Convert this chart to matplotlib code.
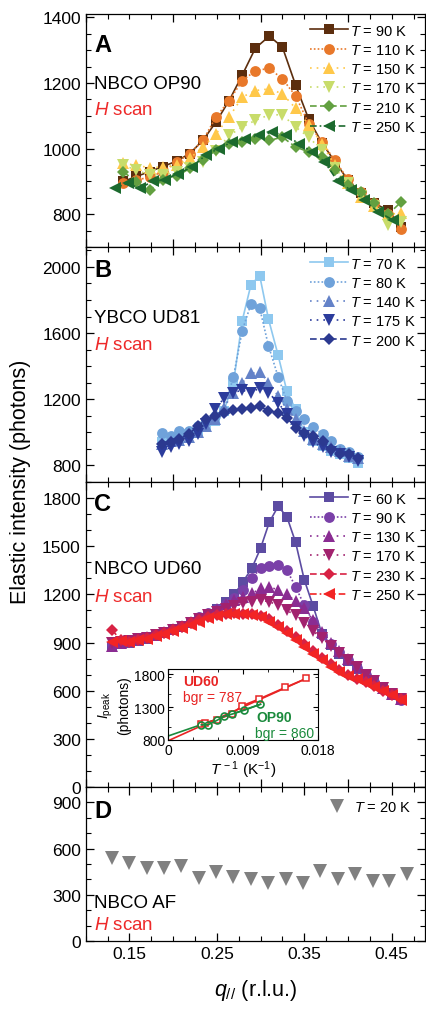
import matplotlib
matplotlib.use('Agg')
import matplotlib.pyplot as plt
from matplotlib.ticker import MultipleLocator

plt.rcParams['font.family'] = ['Liberation Sans', 'DejaVu Sans']
plt.rcParams['mathtext.fontset'] = 'custom'
plt.rcParams['mathtext.rm'] = 'Liberation Sans'
plt.rcParams['mathtext.it'] = 'Liberation Sans:italic'
plt.rcParams['mathtext.bf'] = 'Liberation Sans:bold'

# ---------------- data: panel A, NBCO OP90 ----------------
qA = [0.143, 0.158, 0.173, 0.188, 0.204, 0.219, 0.234, 0.249, 0.264, 0.279, 0.294,
      0.310, 0.325, 0.340, 0.355, 0.370, 0.385, 0.400, 0.415, 0.430, 0.446, 0.461]
op90_90 = [900, 915, 930, 945, 962, 985, 1025, 1081, 1146, 1224, 1306,
           1343, 1309, 1194, 1090, 1018, 960, 904, 864, 833, 812, 760]
op90_110 = [895, 905, 912, 930, 958, 985, 1025, 1096, 1146, 1207, 1237,
            1245, 1212, 1161, 1076, 1020, 964, 906, 868, 835, 800, 755]
op90_150 = [955, 949, 942, 944, 949, 970, 1005, 1045, 1096, 1157, 1177,
            1182, 1167, 1123, 1073, 1015, 949, 894, 854, 824, 800, 803]
op90_170 = [950, 934, 920, 920, 930, 940, 960, 992, 1040, 1066, 1086,
            1103, 1103, 1066, 1035, 995, 940, 895, 855, 825, 768, 776]
op90_210 = [929, 899, 874, 904, 915, 940, 965, 995, 1015, 1020, 1030,
            1025, 1035, 1005, 990, 975, 934, 889, 869, 833, 800, 838]
qA250 = [0.134, 0.148, 0.162, 0.177, 0.191, 0.205, 0.222, 0.237, 0.252, 0.267, 0.282,
         0.298, 0.313, 0.329, 0.344, 0.359, 0.373, 0.388, 0.403, 0.418, 0.434, 0.451]
op90_250 = [881, 894, 879, 901, 904, 924, 944, 980, 1000, 1020, 1030,
            1040, 1050, 1040, 1015, 990, 960, 901, 874, 843, 808, 783]

# ---------------- data: panel B, YBCO UD81 ----------------
qB = [0.187, 0.197, 0.207, 0.218, 0.228, 0.238, 0.248, 0.258, 0.269, 0.279, 0.289, 0.299,
      0.309, 0.320, 0.330, 0.340, 0.350, 0.360, 0.371, 0.381, 0.391, 0.401, 0.411]
ud81_70 = [940, 950, 960, 990, 1010, 1040, 1070, 1130, 1300, 1675, 1893, 1947,
           1685, 1467, 1250, 1139, 1000, 950, 915, 890, 870, 845, 815]
ud81_80 = [994, 980, 1008, 1010, 1040, 1070, 1100, 1130, 1337, 1614, 1776, 1750,
           1523, 1337, 1190, 1129, 1083, 1030, 990, 950, 897, 880, 850]
ud81_140 = [930, 945, 955, 975, 1000, 1040, 1080, 1150, 1240, 1300, 1356, 1365,
            1301, 1220, 1139, 1080, 1010, 960, 930, 910, 890, 860, 845]
ud81_175 = [883, 910, 930, 950, 990, 1050, 1139, 1206, 1240, 1256, 1236, 1271,
            1240, 1180, 1109, 1030, 980, 940, 910, 880, 870, 850, 830]
ud81_200 = [927, 940, 960, 990, 1038, 1079, 1099, 1119, 1133, 1139, 1145, 1159,
            1129, 1120, 1089, 1028, 998, 978, 947, 897, 871, 867, 847]

# ---------------- data: panel C, NBCO UD60 ----------------
qC = [0.13, 0.14, 0.15, 0.16, 0.17, 0.18, 0.19, 0.20, 0.21, 0.22, 0.23, 0.24,
      0.25, 0.26, 0.27, 0.28, 0.29, 0.30, 0.31, 0.32, 0.33, 0.34, 0.35, 0.36,
      0.37, 0.38, 0.39, 0.40, 0.41, 0.42, 0.43, 0.44, 0.45, 0.46]
ud60_60 = [873, 890, 900, 910, 925, 940, 960, 980, 1000, 1025, 1050, 1080,
           1110, 1150, 1200, 1280, 1363, 1488, 1650, 1748, 1685, 1525, 1290, 1129,
           956, 883, 830, 785, 735, 690, 655, 620, 580, 545]
ud60_90 = [890, 895, 905, 915, 930, 945, 965, 985, 1005, 1030, 1060, 1085,
           1110, 1140, 1180, 1227, 1300, 1362, 1379, 1383, 1352, 1248, 1131, 1030,
           950, 890, 840, 790, 740, 695, 655, 620, 580, 545]
ud60_130 = [880, 900, 910, 920, 935, 950, 965, 985, 1005, 1030, 1055, 1080,
            1110, 1140, 1164, 1185, 1206, 1237, 1248, 1227, 1200, 1158, 1113, 1040,
            967, 900, 845, 795, 745, 700, 660, 620, 580, 550]
ud60_170 = [900, 905, 910, 920, 930, 945, 960, 980, 1000, 1020, 1045, 1070,
            1090, 1110, 1130, 1145, 1155, 1164, 1154, 1133, 1100, 1070, 1020, 970,
            930, 880, 835, 790, 745, 700, 660, 620, 580, 550]
ud60_230 = [980, 915, 905, 915, 930, 945, 960, 980, 1000, 1020, 1040, 1060,
            1070, 1080, 1085, 1080, 1075, 1065, 1045, 1010, 975, 935, 890, 850,
            805, 765, 730, 700, 675, 655, 630, 600, 575, 550]
ud60_250 = [905, 910, 905, 915, 925, 940, 955, 975, 990, 1010, 1030, 1050,
            1065, 1075, 1080, 1075, 1071, 1060, 1030, 995, 960, 915, 870, 830,
            790, 750, 715, 690, 670, 650, 625, 600, 575, 545]

# inset: peak intensity vs 1/T
inset_ud60_x = [0.0040, 0.0044, 0.0059, 0.0077, 0.0089, 0.0109, 0.0141, 0.0166]
inset_ud60_y = [1040, 1060, 1110, 1200, 1320, 1421, 1600, 1735]
inset_op90_x = [0.0040, 0.0048, 0.0059, 0.0067, 0.0077, 0.0091, 0.0111]
inset_op90_y = [1030, 1030, 1100, 1160, 1194, 1250, 1343]
fit_ud60_x = [0.0, 0.0166]
fit_ud60_y = [787, 1735]
fit_op90_x = [0.0, 0.0111]
fit_op90_y = [860, 1343]

# ---------------- data: panel D, NBCO AF ----------------
qD = [0.130, 0.150, 0.170, 0.190, 0.209, 0.229, 0.249, 0.269, 0.289,
      0.309, 0.329, 0.349, 0.368, 0.388, 0.408, 0.428, 0.447, 0.467]
af_20 = [540, 508, 475, 475, 486, 411, 447, 417, 404,
         374, 404, 374, 454, 404, 432, 389, 389, 432]

SOLID = '-'
DOT = (0, (1, 1.3))
SPARSE = (0, (1, 3))
DASH = (0, (4, 2))
DASHDOT = (0, (4, 1.8, 1, 1.8))

# marker sizes per marker shape
MS = {'s': 6.8, 'o': 7.8, '^': 8.6, 'v': 8.6, 'D': 6.6, '<': 8.6}


def style_axis(ax, ylim, major, minor):
    '''Limits and inward ticks on all four sides.'''
    ax.set_xlim(0.1, 0.488)
    ax.set_ylim(*ylim)
    ax.xaxis.set_major_locator(MultipleLocator(0.1))
    ax.xaxis.set_minor_locator(MultipleLocator(0.025))
    ax.yaxis.set_major_locator(MultipleLocator(major))
    ax.yaxis.set_minor_locator(MultipleLocator(minor))
    ax.tick_params(which='both', direction='in', top=True, right=True, labelsize=12.5)
    ax.tick_params(which='major', length=6, width=0.9)
    ax.tick_params(which='minor', length=3.5, width=0.8)
    for s in ax.spines.values():
        s.set_linewidth(0.9)


def panel_text(ax, letter, sample, yl, ys, yscan):
    ax.text(0.025, yl, letter, transform=ax.transAxes, fontsize=17, fontweight='bold',
            va='center', ha='left')
    ax.text(0.025, ys, sample, transform=ax.transAxes, fontsize=13.5, va='center', ha='left')
    ax.text(0.025, yscan, '$H$ scan', transform=ax.transAxes, fontsize=13.5, va='center',
            ha='left', color='#ee2a2a')


def add_series(ax, q, vals, color, marker, ls, label):
    ax.plot(q, vals, color=color, marker=marker, ls=ls, lw=1.2, ms=MS[marker],
            markeredgewidth=0, label=label)


def add_legend(ax, handlelength=2.6, pad=0.45):
    ax.legend(loc='upper right', frameon=False, fontsize=10.5, handlelength=handlelength,
              handletextpad=0.15, labelspacing=0.36, borderaxespad=pad, borderpad=0.2)


fig = plt.figure(figsize=(4.27, 10.12), dpi=100)
L, W = 0.2007, 0.7946
axA = fig.add_axes([L, 0.7549, W, 0.2302])
axB = fig.add_axes([L, 0.5227, W, 0.2322])
axC = fig.add_axes([L, 0.2213, W, 0.3014])
axD = fig.add_axes([L, 0.0692, W, 0.1522])

# panel A
add_series(axA, qA, op90_90, '#5c2e0e', 's', SOLID, '$T$ = 90 K')
add_series(axA, qA, op90_110, '#e8782a', 'o', DOT, '$T$ = 110 K')
add_series(axA, qA, op90_150, '#ffc84a', '^', SPARSE, '$T$ = 150 K')
add_series(axA, qA, op90_170, '#c8dc6a', 'v', SPARSE, '$T$ = 170 K')
add_series(axA, qA, op90_210, '#62a040', 'D', DASH, '$T$ = 210 K')
add_series(axA, qA250, op90_250, '#1c6a2e', '<', DASHDOT, '$T$ = 250 K')
style_axis(axA, (700, 1410), 200, 50)
add_legend(axA)
panel_text(axA, 'A', 'NBCO OP90', 0.87, 0.70, 0.59)

# panel B
add_series(axB, qB, ud81_70, '#8ec8ef', 's', SOLID, '$T$ = 70 K')
add_series(axB, qB, ud81_80, '#6fa2da', 'o', DOT, '$T$ = 80 K')
add_series(axB, qB, ud81_140, '#6482c8', '^', SPARSE, '$T$ = 140 K')
add_series(axB, qB, ud81_175, '#2c3c9c', 'v', SPARSE, '$T$ = 175 K')
add_series(axB, qB, ud81_200, '#2b3990', 'D', DASH, '$T$ = 200 K')
style_axis(axB, (700, 2120), 400, 100)
add_legend(axB)
panel_text(axB, 'B', 'YBCO UD81', 0.905, 0.70, 0.587)

# panel C
add_series(axC, qC, ud60_60, '#5c4ca2', 's', SOLID, '$T$ = 60 K')
add_series(axC, qC, ud60_90, '#7a40a8', 'o', DOT, '$T$ = 90 K')
add_series(axC, qC, ud60_130, '#8a2c92', '^', SPARSE, '$T$ = 130 K')
add_series(axC, qC, ud60_170, '#a2226e', 'v', SPARSE, '$T$ = 170 K')
add_series(axC, qC, ud60_230, '#d82244', 'D', DASH, '$T$ = 230 K')
add_series(axC, qC, ud60_250, '#f22424', '<', DASHDOT, '$T$ = 250 K')
style_axis(axC, (0, 1900), 300, 100)
add_legend(axC)
panel_text(axC, 'C', 'NBCO UD60', 0.928, 0.715, 0.626)

# panel D
axD.plot(qD, af_20, color='#808080', marker='v', ls='none', ms=10, markeredgewidth=0,
         label='$T$ = 20 K')
style_axis(axD, (0, 1000), 300, 100)
axD.legend(loc='upper right', frameon=False, fontsize=10.5, handlelength=1.2,
           handletextpad=0.6, borderaxespad=0.7, borderpad=0.2)
panel_text(axD, 'D', 'NBCO AF', 0.844, 0.253, 0.11)

for ax in (axA, axB, axC):
    ax.tick_params(labelbottom=False)
axD.set_xticks([0.15, 0.25, 0.35, 0.45])
axD.set_xticklabels(['0.15', '0.25', '0.35', '0.45'])
axD.set_xlabel('$q_{//}$ (r.l.u.)', fontsize=15.5, labelpad=12)

fig.text(0.047, 0.524, 'Elastic intensity (photons)', rotation=90, va='center', ha='center',
         fontsize=15.5, family=['Liberation Sans Narrow', 'Liberation Sans', 'DejaVu Sans'])

# inset in panel C
red, green = '#e82424', '#1a8a3c'
axI = fig.add_axes([0.3934, 0.2678, 0.3513, 0.0702])
axI.plot(fit_ud60_x, fit_ud60_y, color=red, lw=1.2)
axI.plot(fit_op90_x, fit_op90_y, color=green, lw=1.2)
axI.plot(inset_ud60_x, inset_ud60_y, color=red, marker='s', ms=4.5, mfc='white',
         mew=1.1, lw=1.2)
axI.plot(inset_op90_x, inset_op90_y, color=green, marker='o', ms=5, mfc='none',
         mew=1.2, lw=1.2)
axI.set_xlim(0, 0.018)
axI.set_ylim(800, 1880)
axI.set_xticks([0, 0.009, 0.018])
axI.set_xticklabels(['0', '0.009', '0.018'])
axI.set_yticks([800, 1300, 1800])
axI.xaxis.set_minor_locator(MultipleLocator(0.003))
axI.yaxis.set_minor_locator(MultipleLocator(250))
axI.tick_params(which='both', direction='in', top=True, right=True, labelsize=10, pad=2)
axI.tick_params(which='major', length=3.5)
axI.tick_params(which='minor', length=2)
axI.set_xlabel('$T^{\\,-1}$ (K$^{-1}$)', fontsize=11, labelpad=1)
axI.set_ylabel('$I_{\\rm peak}$\n(photons)', fontsize=10, labelpad=2)
axI.text(0.1, 0.83, 'UD60', color=red, fontweight='bold', fontsize=10,
         transform=axI.transAxes, va='center')
axI.text(0.1, 0.6, 'bgr = 787', color=red, fontsize=10, transform=axI.transAxes,
         va='center')
axI.text(0.59, 0.33, 'OP90', color=green, fontweight='bold', fontsize=10,
         transform=axI.transAxes, va='center')
axI.text(0.58, 0.1, 'bgr = 860', color=green, fontsize=10, transform=axI.transAxes,
         va='center')

fig.savefig('out.png', dpi=100)
